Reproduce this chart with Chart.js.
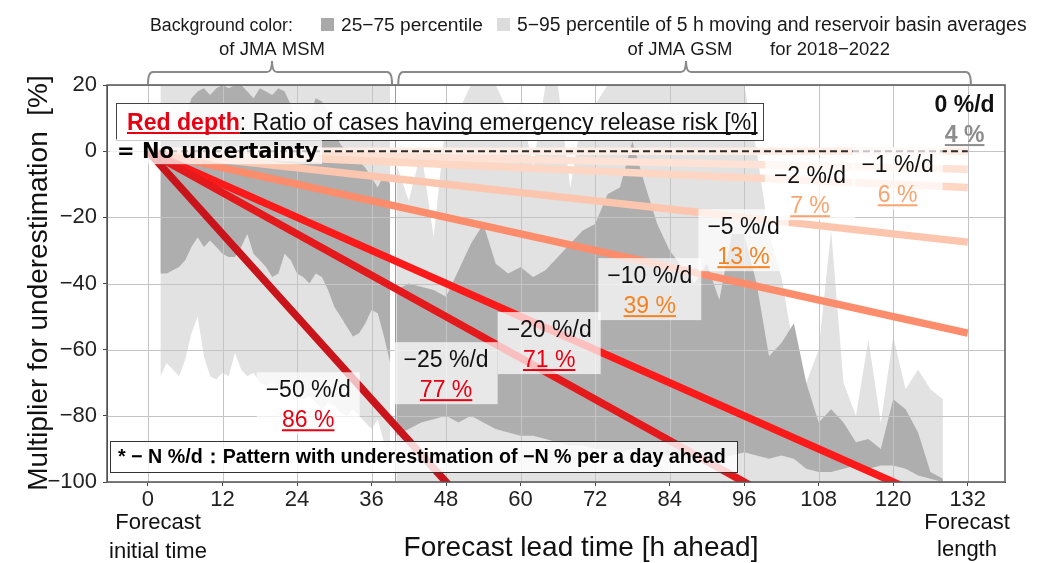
<!DOCTYPE html>
<html>
<head>
<meta charset="utf-8">
<script src="https://cdn.jsdelivr.net/npm/chart.js@4.4.1/dist/chart.umd.min.js"></script>
<style>
  html, body { margin: 0; padding: 0; background: #fff; }
  #wrap { width: 1043px; height: 563px; }
</style>
</head>
<body>
<div id="wrap"><canvas id="chart" width="1043" height="563"></canvas></div>
<script>
/* ---- data ---- */
const xTicks = [0, 12, 24, 36, 48, 60, 72, 84, 96, 108, 120, 132];
const yTicks = [-100, -80, -60, -40, -20, 0, 20];

// JMA MSM (hourly, 2-39 h)
const msmHours = [2,3,4,5,6,7,8,9,10,11,12,13,14,15,16,17,18,19,20,21,22,23,24,25,26,27,28,29,30,31,32,33,34,35,36,37,38,39];
const msmP95 = [20,20,20,20,20,20,20,20,20,20,20,20,20,20,20,20,20,20,20,20,20,20,20,20,20,20,20,20,20,20,20,20,20,20,20,20,20,20];
const msmP75 = [6,7,6,8,10,16,18,19,17,19,20,19,20,20,18,16,19,18,17,19,18,14,8,5,10,16,15,12,6,2,0,-1,-3,-5,-8,-11,-7,-10];
const msmP25 = [-37,-37,-36,-35,-33,-29,-26,-29,-27,-29,-31,-32,-32,-29,-25,-31,-33,-35,-38,-37,-31,-33,-37,-38,-40,-37,-38,-42,-47,-50,-53,-56,-55,-52,-48,-49,-56,-64];
const msmP5  = [-68,-64,-66,-68,-63,-55,-50,-62,-68,-69,-67,-68,-61,-66,-68,-67,-70,-71,-70,-72,-73,-72,-74,-75,-74,-76,-78,-76,-77,-79,-80,-78,-80,-82,-84,-81,-88,-92];

// JMA GSM (every 2 h, 40-128 h)
const gsmHours = [40,42,44,46,48,50,52,54,56,58,60,62,64,66,68,70,72,74,76,78,80,82,84,86,88,90,92,94,96,98,100,102,104,106,108,110,112,114,116,118,120,122,124,126,128];
const gsmP95 = [-4,-15,0,-26,10,12,20,20,20,12,14,-5,20,20,-11,12,14,20,20,20,20,20,20,20,20,20,20,20,20,0,-25,-38,-60,-70,-60,-24,-70,-80,-57,-82,-56,-72,-66,-72,-75];
const gsmP75 = [-42,-40,-41,-42,-44,-36,-28,-22,-34,-37,-35,-38,-36,-32,-28,-24,-22,-13,-11,3,-10,-22,-30,-35,-40,-34,-45,-25,-25,-40,-62,-58,-52,-70,-82,-78,-82,-88,-87,-90,-75,-78,-85,-97,-99];
const gsmP25 = [-86,-84,-82,-81,-80,-82,-80,-82,-84,-85,-86,-86,-87,-88,-89,-89,-90,-90,-91,-90,-91,-92,-92,-93,-92,-91,-93,-92,-91,-92,-93,-92,-93,-96,-97,-97,-96,-95,-96,-95,-95,-96,-98,-99,-100];
const gsmP5  = [-100,-100,-100,-100,-100,-100,-100,-100,-100,-100,-100,-100,-100,-100,-100,-100,-100,-100,-100,-100,-100,-100,-100,-100,-100,-100,-100,-100,-100,-100,-100,-100,-100,-100,-100,-100,-100,-100,-100,-100,-100,-100,-100,-100,-100];

// underestimation patterns [%/d] and their emergency-release risk [%]
const slopes = [0, -1, -2, -5, -10, -20, -25, -50];
const riskRatios = [4, 6, 7, 13, 39, 71, 77, 86];
const lineHours = [0, 132];

/* ---- styles ---- */
const FONT = '"Liberation Sans", Arial, sans-serif';
const lineColors = ['#feeee6', '#fde2d5', '#fdd6c4', '#fcc6ae', '#fc8d6c', '#fb1a1a', '#e3191c', '#c8141a'];
const ratioColors = ['#8c8c8c', '#f9a46e', '#f9a46e', '#f7821e', '#f7821e', '#e60012', '#e60012', '#e60012'];
// label box centres in data units (h, %)
const labelAt = [[131.5, 10], [120.7, -8.2], [106.6, -11.5], [95.9, -26.9], [80.8, -41.7], [64.6, -58], [48, -67.1], [25.8, -76.2]];

const toXY = (hours, vals) => hours.map((h, i) => ({ x: h, y: vals[i] }));

const datasets = [];
function addBand(hours, lower, upper, color, order, extra) {
  datasets.push({ data: toXY(hours, lower), borderWidth: 0, pointRadius: 0, fill: false, order: 40, clip: 0 });
  datasets.push(Object.assign({ data: toXY(hours, upper), borderWidth: 0, pointRadius: 0,
    fill: '-1', backgroundColor: color, order: order, clip: 0 }, extra || {}));
}
addBand(msmHours, msmP5, msmP95, '#e2e2e2', 21);
addBand(gsmHours, gsmP5, gsmP95, '#e2e2e2', 22);
addBand(gsmHours, gsmP25, gsmP75, '#aeaeae', 19);
addBand(msmHours, msmP25, msmP75, '#aeaeae', 18, { gridAfter: true });

slopes.forEach((s, i) => {
  datasets.push({
    data: lineHours.map(h => ({ x: h, y: s * h / 24 })),
    borderColor: lineColors[i], borderWidth: 7.5, pointRadius: 0, fill: false,
    borderCapStyle: 'butt', order: 12 - i, clip: 0
  });
});
// "no uncertainty" reference
datasets.push({
  data: lineHours.map(h => ({ x: h, y: 0 })),
  borderColor: '#2b2b2b', borderWidth: 2, borderDash: [7, 4], pointRadius: 0, fill: false, order: 1, clip: 0
});

/* ---- drawing helpers ---- */
function drawGrid(chart) {
  const { ctx, chartArea: a, scales: { x, y } } = chart;
  ctx.save();
  ctx.strokeStyle = '#c4c4c4';
  ctx.lineWidth = 1;
  ctx.beginPath();
  xTicks.forEach(v => { const px = Math.round(x.getPixelForValue(v)) + 0.5; ctx.moveTo(px, a.top); ctx.lineTo(px, a.bottom); });
  yTicks.forEach(v => { const py = Math.round(y.getPixelForValue(v)) + 0.5; ctx.moveTo(a.left, py); ctx.lineTo(a.right, py); });
  ctx.stroke();
  // MSM / GSM boundary
  const bx = Math.round(x.getPixelForValue(39.75)) + 0.5;
  ctx.strokeStyle = '#9c9c9c';
  ctx.beginPath(); ctx.moveTo(bx, a.top); ctx.lineTo(bx, a.bottom); ctx.stroke();
  ctx.restore();
}

function underline(ctx, x, y, w, color) {
  ctx.fillStyle = color;
  ctx.fillRect(x, y, w, 2);
}

// font size that makes text span the given width
function fitSize(ctx, text, weight, width) {
  ctx.font = weight + ' 100px ' + FONT;
  return 100 * width / ctx.measureText(text).width;
}

function drawAnnotations(chart) {
  const { ctx, chartArea: a, scales: { x, y } } = chart;
  ctx.save();

  // pattern labels
  slopes.forEach((s, i) => {
    const cx = x.getPixelForValue(labelAt[i][0]);
    const cy = y.getPixelForValue(labelAt[i][1]);
    const t1 = (s === 0 ? '0' : '\u2212' + Math.abs(s)) + ' %/d';
    const t2 = riskRatios[i] + ' %';
    ctx.font = (s === 0 ? 'bold ' : '') + '23px ' + FONT;
    const w1 = ctx.measureText(t1).width;
    const w2 = ctx.measureText(t2).width;
    if (s !== 0) {
      const bw = Math.max(w1, w2) + 18;
      ctx.fillStyle = 'rgba(255,255,255,0.72)';
      ctx.fillRect(cx - bw / 2, cy - 31, bw, 62);
    }
    ctx.textAlign = 'center';
    ctx.textBaseline = 'alphabetic';
    ctx.fillStyle = '#111';
    ctx.fillText(t1, cx, cy - 6);
    ctx.fillStyle = ratioColors[i];
    ctx.fillText(t2, cx, cy + 24);
    underline(ctx, cx - w2 / 2, cy + 26, w2, ratioColors[i]);
  });

  // "Red depth" box
  const bx = a.left + 9, by = a.top + 18, bw = 647, bh = 37;
  ctx.fillStyle = 'rgba(255,255,255,0.92)';
  ctx.fillRect(bx, by, bw, bh);
  ctx.strokeStyle = '#444';
  ctx.lineWidth = 1;
  ctx.strokeRect(bx + 0.5, by + 0.5, bw, bh);
  const tA = 'Red depth', tB = ': Ratio of cases having emergency release risk [%]';
  ctx.font = 'bold 100px ' + FONT;
  const wA100 = ctx.measureText(tA).width;
  ctx.font = '100px ' + FONT;
  const wB100 = ctx.measureText(tB).width;
  const fs = 100 * 631 / (wA100 + wB100);
  ctx.textAlign = 'left';
  ctx.textBaseline = 'alphabetic';
  ctx.font = 'bold ' + fs + 'px ' + FONT;
  ctx.fillStyle = '#e60012';
  const tx = bx + 11, ty = by + 27;
  ctx.fillText(tA, tx, ty);
  const wA = ctx.measureText(tA).width;
  underline(ctx, tx, ty + 2, wA, '#e60012');
  ctx.font = fs + 'px ' + FONT;
  ctx.fillStyle = '#111';
  ctx.fillText(tB, tx + wA, ty);
  underline(ctx, tx + wA, ty + 2, ctx.measureText(tB).width, '#111');

  // "= No uncertainty"
  ctx.fillStyle = 'rgba(255,255,255,0.72)';
  ctx.fillRect(a.left + 3, y.getPixelForValue(0) - 12, 212, 25);
  ctx.font = 'bold 21px "DejaVu Sans", ' + FONT;
  ctx.fillStyle = '#000';
  ctx.textBaseline = 'middle';
  ctx.fillText('= No uncertainty', a.left + 10, y.getPixelForValue(0) + 1);

  // footnote box
  const fx = a.left + 3, fy = a.bottom - 41, fw = 627, fh = 31;
  ctx.fillStyle = 'rgba(255,255,255,0.82)';
  ctx.fillRect(fx, fy, fw, fh);
  ctx.strokeStyle = '#333';
  ctx.strokeRect(fx + 0.5, fy + 0.5, fw, fh);
  const foot = '* \u2212 N %/d\uFF1APattern with underestimation of \u2212N % per a day ahead';
  const ffs = fitSize(ctx, foot, 'bold', 608);
  ctx.font = 'bold ' + ffs + 'px ' + FONT;
  ctx.fillStyle = '#000';
  ctx.textBaseline = 'middle';
  ctx.fillText(foot, fx + 8, fy + fh / 2 + 1);

  // frame
  ctx.strokeStyle = '#555';
  ctx.lineWidth = 1.5;
  ctx.strokeRect(a.left, a.top, a.right - a.left, a.bottom - a.top);
  ctx.restore();
}

function brace(ctx, x1, x2, xm, yTip, yMid, yEnd) {
  ctx.beginPath();
  ctx.moveTo(x1, yEnd);
  ctx.quadraticCurveTo(x1, yMid, x1 + 5, yMid);
  ctx.lineTo(xm - 5, yMid);
  ctx.quadraticCurveTo(xm, yMid, xm, yTip);
  ctx.quadraticCurveTo(xm, yMid, xm + 5, yMid);
  ctx.lineTo(x2 - 5, yMid);
  ctx.quadraticCurveTo(x2, yMid, x2, yEnd);
  ctx.stroke();
}

function drawOuter(chart) {
  const { ctx, scales: { x } } = chart;
  ctx.save();
  ctx.textBaseline = 'alphabetic';
  ctx.textAlign = 'left';
  const seg = (text, left, width) => {
    ctx.font = fitSize(ctx, text, '', width) + 'px ' + FONT;
    ctx.fillStyle = '#1a1a1a';
    ctx.fillText(text, left, 31);
  };
  seg('Background color:', 150, 143);
  ctx.fillStyle = '#a9a9a9'; ctx.fillRect(321, 18, 13, 13);
  seg('25\u221275 percentile', 341, 142);
  ctx.fillStyle = '#dcdcdc'; ctx.fillRect(497, 18, 13, 13);
  seg('5\u221295 percentile of 5 h moving and reservoir basin averages', 517, 510);
  ctx.fillStyle = '#1a1a1a';
  ctx.font = '18.5px ' + FONT;
  ctx.textAlign = 'center';
  ctx.fillText('of JMA MSM', 272, 55);
  ctx.fillText('of JMA GSM', 680, 55);
  ctx.fillText('for 2018\u22122022', 830, 55);

  ctx.strokeStyle = '#8a8a8a';
  ctx.lineWidth = 2;
  brace(ctx, x.getPixelForValue(0), x.getPixelForValue(39.3), 272, 61, 72, 84);
  brace(ctx, x.getPixelForValue(40.3), x.getPixelForValue(132.5), 686, 61, 72, 84);

  // axis titles
  ctx.fillStyle = '#111';
  ctx.font = '28px ' + FONT;
  ctx.fillText('Forecast lead time [h ahead]', 581, 556);
  ctx.font = '22px ' + FONT;
  ctx.fillText('Forecast', 158, 529);
  ctx.fillText('initial time', 158, 558);
  ctx.fillText('Forecast', 967, 529);
  ctx.fillText('length', 967, 556);

  ctx.save();
  ctx.translate(47, 283);
  ctx.rotate(-Math.PI / 2);
  ctx.font = '28px ' + FONT;
  ctx.fillText('Multiplier for underestimation  [%]', 0, 0);
  ctx.restore();
  ctx.restore();
}

const overlay = {
  id: 'overlay',
  afterDatasetDraw(chart, args) {
    if (chart.data.datasets[args.index].gridAfter) drawGrid(chart);
  },
  afterDatasetsDraw(chart) { drawAnnotations(chart); },
  afterDraw(chart) { drawOuter(chart); }
};

new Chart(document.getElementById('chart'), {
  type: 'line',
  data: { datasets },
  options: {
    responsive: false,
    animation: false,
    devicePixelRatio: 1,
    layout: { padding: { top: 85, right: 38, left: 0, bottom: 0 } },
    plugins: { legend: { display: false }, tooltip: { enabled: false } },
    elements: { line: { tension: 0 } },
    scales: {
      x: {
        type: 'linear', min: -6.6, max: 138,
        afterBuildTicks: s => { s.ticks = xTicks.map(v => ({ value: v })); },
        afterFit: s => { s.height = 81; },
        ticks: { font: { family: 'Liberation Sans', size: 22 }, color: '#222', padding: 1, maxRotation: 0, autoSkip: false },
        grid: { drawOnChartArea: false, drawTicks: true, tickLength: 4, tickColor: '#444' },
        border: { display: true, color: '#444' }
      },
      y: {
        type: 'linear', min: -100, max: 20,
        afterBuildTicks: s => { s.ticks = yTicks.map(v => ({ value: v })); },
        afterFit: s => { s.width = 107; },
        ticks: {
          font: { family: 'Liberation Sans', size: 22 }, color: '#222', padding: 6,
          callback: v => (v < 0 ? '\u2212' + Math.abs(v) : String(v))
        },
        grid: { drawOnChartArea: false, drawTicks: true, tickLength: 4, tickColor: '#444' },
        border: { display: true, color: '#444' }
      }
    }
  },
  plugins: [overlay]
});
</script>
</body>
</html>
